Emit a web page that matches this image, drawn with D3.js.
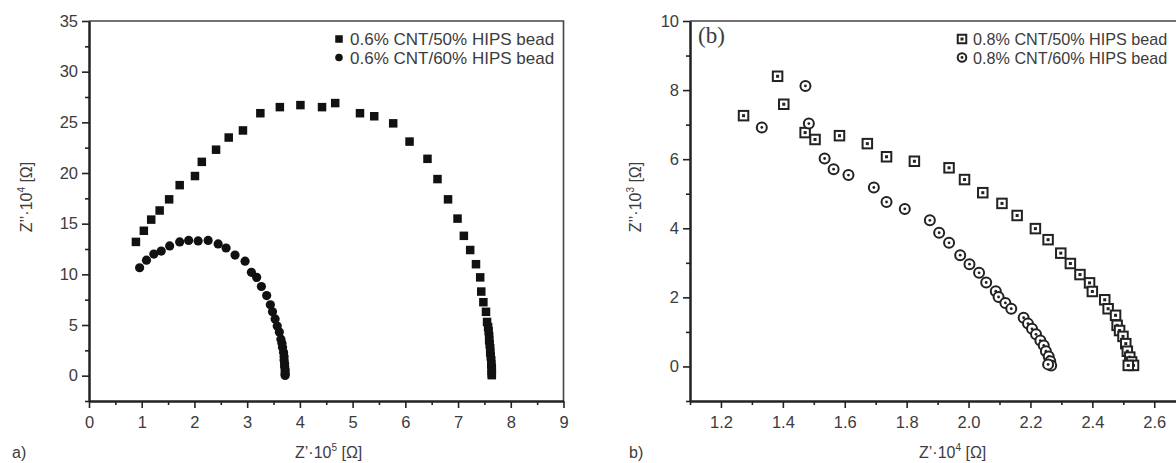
<!DOCTYPE html>
<html>
<head>
<meta charset="utf-8">
<script src="https://cdn.jsdelivr.net/npm/d3@7"></script>
<style>
  body { margin: 0; background: #fff; }
  svg text { font-family: "Liberation Sans", Arial, sans-serif; fill: #3c3c3c; }
</style>
</head>
<body>
<script>
// panel a) : Z' (x10^5 ohm), Z'' (x10^4 ohm)
var a50 = [
  [0.89, 13.2], [1.04, 14.3], [1.18, 15.4], [1.34, 16.3], [1.52, 17.4], [1.72, 18.8],
  [2.01, 19.7], [2.14, 21.1], [2.41, 22.3], [2.65, 23.5], [2.92, 24.2], [3.25, 25.9],
  [3.62, 26.5], [4.01, 26.7], [4.42, 26.5], [4.67, 26.9], [5.14, 25.9], [5.41, 25.6],
  [5.77, 24.9], [6.08, 23.1], [6.42, 21.4], [6.61, 19.4], [6.81, 17.4], [6.99, 15.5],
  [7.11, 13.8], [7.23, 12.4], [7.34, 11.0], [7.42, 9.7], [7.44, 8.3], [7.48, 7.25],
  [7.53, 6.3], [7.55, 5.3], [7.57, 4.8], [7.58, 4.4], [7.59, 3.9], [7.59, 3.5],
  [7.60, 3.1], [7.61, 2.7], [7.61, 2.3], [7.62, 1.9], [7.63, 1.5], [7.63, 1.1],
  [7.64, 0.75], [7.64, 0.45], [7.64, 0.2], [7.64, 0.05]
];
var a60 = [
  [0.96, 10.65], [1.09, 11.4], [1.23, 12.0], [1.37, 12.3], [1.53, 12.8], [1.72, 13.2],
  [1.89, 13.35], [2.07, 13.3], [2.26, 13.35], [2.45, 13.0], [2.60, 12.6], [2.77, 11.9],
  [2.96, 11.3], [3.08, 10.2], [3.18, 9.7], [3.27, 8.8], [3.37, 7.9], [3.44, 7.0],
  [3.48, 6.3], [3.53, 5.6], [3.57, 4.9], [3.61, 4.3], [3.64, 3.6], [3.66, 3.2],
  [3.67, 2.8], [3.69, 2.3], [3.70, 1.9], [3.70, 1.55], [3.71, 1.2], [3.71, 0.9],
  [3.72, 0.6], [3.72, 0.35], [3.72, 0.15], [3.72, 0.02]
];
// panel b) : Z' (x10^4 ohm), Z'' (x10^3 ohm)
var b50 = [
  [1.273, 7.26], [1.383, 8.4], [1.403, 7.59], [1.472, 6.77], [1.504, 6.57], [1.583, 6.68],
  [1.673, 6.45], [1.735, 6.07], [1.825, 5.94], [1.937, 5.75], [1.987, 5.41], [2.046, 5.03],
  [2.108, 4.72], [2.157, 4.37], [2.216, 3.99], [2.257, 3.67], [2.298, 3.28], [2.329, 2.98],
  [2.360, 2.66], [2.391, 2.42], [2.400, 2.17], [2.440, 1.93], [2.451, 1.67], [2.475, 1.48],
  [2.480, 1.19], [2.488, 1.04], [2.499, 0.87], [2.508, 0.66], [2.513, 0.44], [2.521, 0.27],
  [2.527, 0.13], [2.533, 0.03], [2.516, 0.03]
];
var b60 = [
  [1.332, 6.92], [1.473, 8.12], [1.484, 7.03], [1.535, 6.02], [1.564, 5.71], [1.612, 5.54],
  [1.694, 5.18], [1.735, 4.76], [1.794, 4.56], [1.875, 4.23], [1.905, 3.87], [1.937, 3.58],
  [1.973, 3.22], [2.003, 2.96], [2.034, 2.71], [2.057, 2.43], [2.088, 2.18], [2.097, 2.01],
  [2.119, 1.84], [2.138, 1.67], [2.178, 1.41], [2.192, 1.24], [2.205, 1.09], [2.218, 0.93],
  [2.232, 0.75], [2.243, 0.61], [2.250, 0.44], [2.259, 0.29], [2.264, 0.15], [2.267, 0.03],
  [2.257, 0.06]
];

var aXTicks = d3.range(0, 10, 1);
var aXMinor = d3.range(0.5, 9, 1);
var aYTicks = d3.range(0, 36, 5);
var aYMinor = d3.range(-2.5, 35, 5);
var bXTicks = [1.2, 1.4, 1.6, 1.8, 2.0, 2.2, 2.4, 2.6];
var bXMinor = [1.1, 1.3, 1.5, 1.7, 1.9, 2.1, 2.3, 2.5, 2.7];
var bYTicks = [0, 2, 4, 6, 8, 10];
var bYMinor = [-1, 1, 3, 5, 7, 9];

var legendA = ['0.6% CNT/50% HIPS bead', '0.6% CNT/60% HIPS bead'];
var legendB = ['0.8% CNT/50% HIPS bead', '0.8% CNT/60% HIPS bead'];

var ink = '#222';
var svg = d3.select('body').append('svg')
  .attr('width', 1176)
  .attr('height', 463);

var drawPanel = (cfg) => {
  var x = d3.scaleLinear().domain(cfg.xDomain).range(cfg.xRange);
  var y = d3.scaleLinear().domain(cfg.yDomain).range([401, 21]);
  var g = svg.append('g');

  // frame (top + right)
  g.append('path')
    .attr('d', 'M' + cfg.xRange[0] + ',21H' + cfg.xRange[1] + 'V401')
    .attr('fill', 'none').attr('stroke', '#444').attr('stroke-width', 1.6);

  var styleAxis = (sel) => {
    sel.attr('font-family', null).attr('font-size', 16.5);
    sel.select('.domain').attr('stroke', ink).attr('stroke-width', 2);
    sel.selectAll('.tick line').attr('stroke', ink).attr('stroke-width', 1.6);
    sel.selectAll('.tick text').attr('fill', '#3c3c3c');
  };

  g.append('g').attr('transform', 'translate(0,401)')
    .call(d3.axisBottom(x).tickValues(cfg.xMinor).tickFormat('').tickSize(4).tickSizeOuter(0))
    .call(styleAxis);
  g.append('g').attr('transform', 'translate(0,401)')
    .call(d3.axisBottom(x).tickValues(cfg.xTicks).tickFormat(cfg.xFmt).tickSize(7).tickPadding(8).tickSizeOuter(0))
    .call(styleAxis);
  g.append('g').attr('transform', 'translate(' + cfg.xRange[0] + ',0)')
    .call(d3.axisLeft(y).tickValues(cfg.yMinor).tickFormat('').tickSize(4).tickSizeOuter(0))
    .call(styleAxis);
  g.append('g').attr('transform', 'translate(' + cfg.xRange[0] + ',0)')
    .call(d3.axisLeft(y).tickValues(cfg.yTicks).tickFormat(d3.format('d')).tickSize(7).tickPadding(4).tickSizeOuter(0))
    .call(styleAxis);

  // series
  g.selectAll('.s1').data(cfg.s1).enter().append('g')
    .attr('transform', d => 'translate(' + x(d[0]) + ',' + y(d[1]) + ')')
    .each(function () { cfg.mark1(d3.select(this)); });
  g.selectAll('.s2').data(cfg.s2).enter().append('g')
    .attr('transform', d => 'translate(' + x(d[0]) + ',' + y(d[1]) + ')')
    .each(function () { cfg.mark2(d3.select(this)); });

  // legend
  cfg.legend.forEach((t, i) => {
    var ly = 39 + i * 18.5;
    var m = g.append('g').attr('transform', 'translate(' + cfg.legendX + ',' + ly + ')');
    (i === 0 ? cfg.legMark1 : cfg.legMark2)(m);
    g.append('text').attr('x', cfg.legendX + 11).attr('y', ly + 6)
      .attr('font-size', cfg.legendSize).text(t);
  });

  // axis titles
  var xt = g.append('text').attr('x', cfg.xTitleX)
    .attr('y', 458).attr('font-size', 16);
  xt.append('tspan').text('Z\u2019\u00b710');
  xt.append('tspan').attr('font-size', 10).attr('dy', -7).text(cfg.xExp);
  xt.append('tspan').attr('dy', 7).text(' [\u03a9]');

  var yt = g.append('text')
    .attr('transform', 'translate(' + cfg.yTitleX + ',197) rotate(-90)')
    .attr('text-anchor', 'middle').attr('font-size', 16);
  yt.append('tspan').text('Z\u2019\u2019\u00b710');
  yt.append('tspan').attr('font-size', 10).attr('dy', -7).text(cfg.yExp);
  yt.append('tspan').attr('dy', 7).text(' [\u03a9]');

  g.append('text').attr('x', cfg.tagX).attr('y', 458).attr('font-size', 16).text(cfg.tag);
};

var filledSquare = (s) => (m) => m.append('rect')
  .attr('x', -s / 2).attr('y', -s / 2).attr('width', s).attr('height', s).attr('fill', '#111');
var filledCircle = (r) => (m) => m.append('circle').attr('r', r).attr('fill', '#111');
var openSquare = (s) => (m) => {
  m.append('rect').attr('x', -s / 2).attr('y', -s / 2).attr('width', s).attr('height', s)
    .attr('fill', '#fff').attr('stroke', '#222').attr('stroke-width', 2);
  m.append('rect').attr('x', -1.5).attr('y', -1.5).attr('width', 3).attr('height', 3).attr('fill', '#222');
};
var openCircle = (r) => (m) => {
  m.append('circle').attr('r', r).attr('fill', '#fff').attr('stroke', '#222').attr('stroke-width', 2);
  m.append('circle').attr('r', 1.4).attr('fill', '#222');
};

drawPanel({
  xDomain: [0, 9], xRange: [89, 563.5], yDomain: [-2.5, 35],
  xTicks: aXTicks, xMinor: aXMinor, yTicks: aYTicks, yMinor: aYMinor,
  xFmt: d3.format('d'),
  s1: a50, s2: a60,
  mark1: filledSquare(8.5), mark2: filledCircle(4.6),
  legMark1: filledSquare(7.5), legMark2: filledCircle(3.8),
  legend: legendA, legendX: 339, legendSize: 17,
  xTitleX: 295, xExp: '5', yTitleX: 32, yExp: '4',
  tag: 'a)', tagX: 12
});

drawPanel({
  xDomain: [1.1, 2.7], xRange: [690, 1185.2], yDomain: [-1, 10],
  xTicks: bXTicks, xMinor: bXMinor, yTicks: bYTicks, yMinor: bYMinor,
  xFmt: d3.format('.1f'),
  s1: b50, s2: b60,
  mark1: openSquare(9.5), mark2: openCircle(5),
  legMark1: openSquare(8.5), legMark2: openCircle(4.3),
  legend: legendB, legendX: 962, legendSize: 16.2,
  xTitleX: 919, xExp: '4', yTitleX: 641, yExp: '3',
  tag: 'b)', tagX: 629
});

svg.append('text').attr('x', 698).attr('y', 43)
  .style('font-family', '"Liberation Serif", "Times New Roman", serif')
  .attr('font-size', 23).text('(b)');
</script>
</body>
</html>
